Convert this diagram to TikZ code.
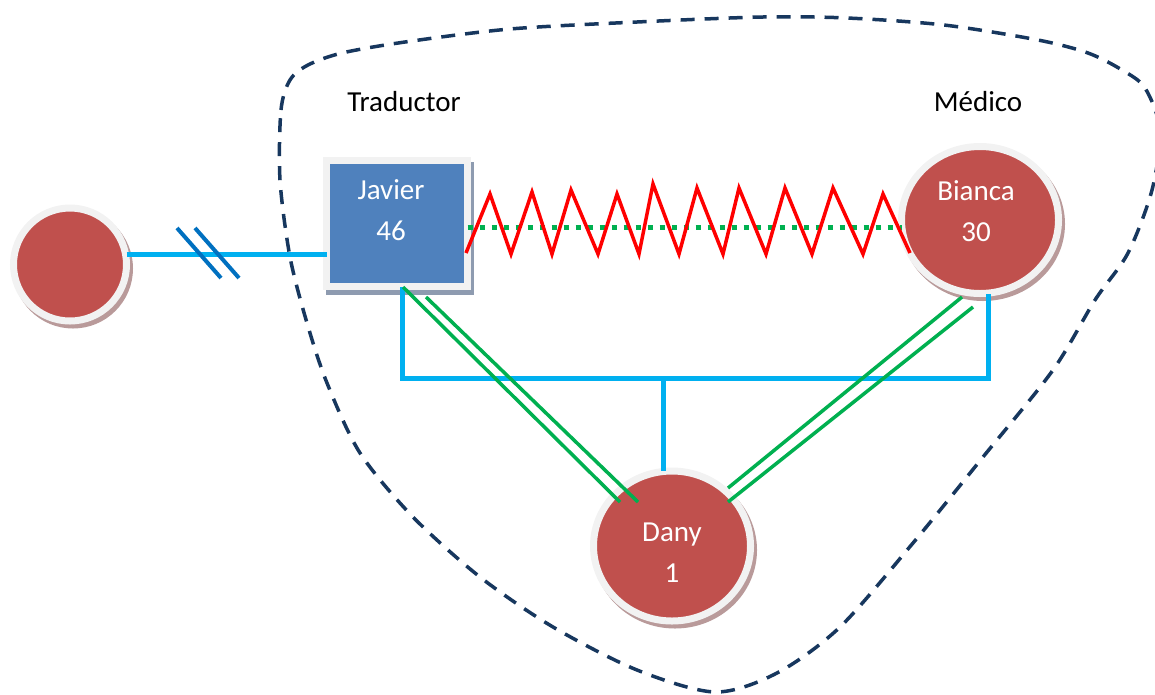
\documentclass[tikz,border=0pt]{standalone}
\usepackage{fontspec}
\setmainfont{Carlito}
\usetikzlibrary{shapes.geometric}
\definecolor{nodered}{HTML}{C0504D}
\definecolor{ringgray}{HTML}{F2F2F2}
\definecolor{rshadow}{HTML}{B99A9A}
\definecolor{bshadow}{HTML}{8E9BB0}
\definecolor{boxblue}{HTML}{4F81BD}
\definecolor{linkblue}{HTML}{00B0F0}
\definecolor{slashblue}{HTML}{0070C0}
\definecolor{linkgreen}{HTML}{00B050}
\definecolor{zigred}{HTML}{FF0000}
\definecolor{navyline}{HTML}{17375E}
\begin{document}
\begin{tikzpicture}[x=1pt,y=-1pt,
  bubble/.style={ellipse, inner sep=0pt, outer sep=0pt, fill=nodered, draw=ringgray, line width=7pt,
     preaction={draw=rshadow, fill=rshadow, transform canvas={xshift=3pt,yshift=-4pt}}},
  personbox/.style={rectangle, inner sep=0pt, outer sep=0pt, fill=boxblue, draw=ringgray, line width=7pt,
     minimum width=141pt, minimum height=126pt,
     preaction={draw=bshadow, fill=bshadow, transform canvas={xshift=3pt,yshift=-5pt}}},
  nametext/.style={text=white, align=center, font=\fontsize{29}{41}\selectfont, anchor=base, inner sep=0pt},
  rolelabel/.style={text=black, font=\fontsize{29}{35}\selectfont, anchor=base, inner sep=0pt},
  bluelink/.style={draw=linkblue, line width=5pt},
  slashmark/.style={draw=slashblue, line width=4pt},
  greenlink/.style={draw=linkgreen, line width=3.5pt},
  greendots/.style={draw=linkgreen, line width=5pt, dash pattern=on 5pt off 7pt},
  springline/.style={draw=zigred, line width=3.5pt, line join=miter},
  boundary/.style={draw=navyline, line width=3.5pt, dash pattern=on 14pt off 10pt}
]
\useasboundingbox (0,0) rectangle (1155,694);

% nodes
\node[bubble, minimum width=113pt, minimum height=113pt] (outsider) at (70,264.5) {};
\node[bubble, minimum width=157pt, minimum height=147pt] (bianca) at (980,220) {};
\node[bubble, minimum width=157pt, minimum height=150pt] (dany) at (672,546) {};
\node[personbox] (javier) at (397,223.5) {};

% blue links
\draw[bluelink] (outsider.east |- 0,254) -- (javier.west |- 0,254);
\draw[slashmark] (177,228) -- (221,278);
\draw[slashmark] (195,228) -- (239,278);
\draw[bluelink] (javier.south -| 402,0) -- (402,378) -- (988,378) -- (bianca.south -| 988,0);
\draw[bluelink] (663,378) -- (dany.north -| 663,0);

% javier - bianca
\draw[greendots] (javier.east |- 0,227) -- (bianca.west |- 0,227);
\coordinate (zigstart) at (466,253);
\coordinate (zigend) at (910,253);
\draw[springline] (zigstart) -- (490,194) -- (511,254) -- (532,192) -- (552,254) -- (571,190)
  -- (598,254) -- (617,194) -- (639,254) -- (653,184) -- (679,254) -- (697,188) -- (723,254)
  -- (739,188) -- (766,254) -- (785,188) -- (812,254) -- (833,188) -- (863,254) -- (883,194) -- (zigend);

% green double links
\draw[greenlink] (403,287) -- (620,502);
\draw[greenlink] (426,297) -- (638,502);
\draw[greenlink] (962,297) -- (728,488);
\draw[greenlink] (973,307) -- (728,502);

% texts (base anchor = last line baseline)
\node[nametext] (javiertext) at (391,240) {Javier\\46};
\node[nametext] (biancatext) at (976,241) {Bianca\\30};
\node[nametext] (danytext) at (672,582) {Dany\\1};
\node[rolelabel] (traductor) at (404,111) {Traductor};
\node[rolelabel] (medico) at (978,111) {Médico};

% boundary
\begin{scope}
\clip (0,0) rectangle (1155,694);
\draw[boundary] plot[smooth cycle, tension=0.5] coordinates {
  (280,180) (281,110) (290,80) (308,65) (342,53) (405,42) (510,29) (637,22) (763,17)
  (847,18) (944,25) (1038,40) (1088,53) (1122,70) (1145,88) (1160,130) (1152,190)
  (1128,253) (1095,300) (1053,370) (983,457) (913,543) (840,627) (777,673) (715,692)
  (637,670) (553,627) (480,577) (413,517) (360,453) (327,383) (307,323) (290,257)};
\end{scope}
\end{tikzpicture}
\end{document}
